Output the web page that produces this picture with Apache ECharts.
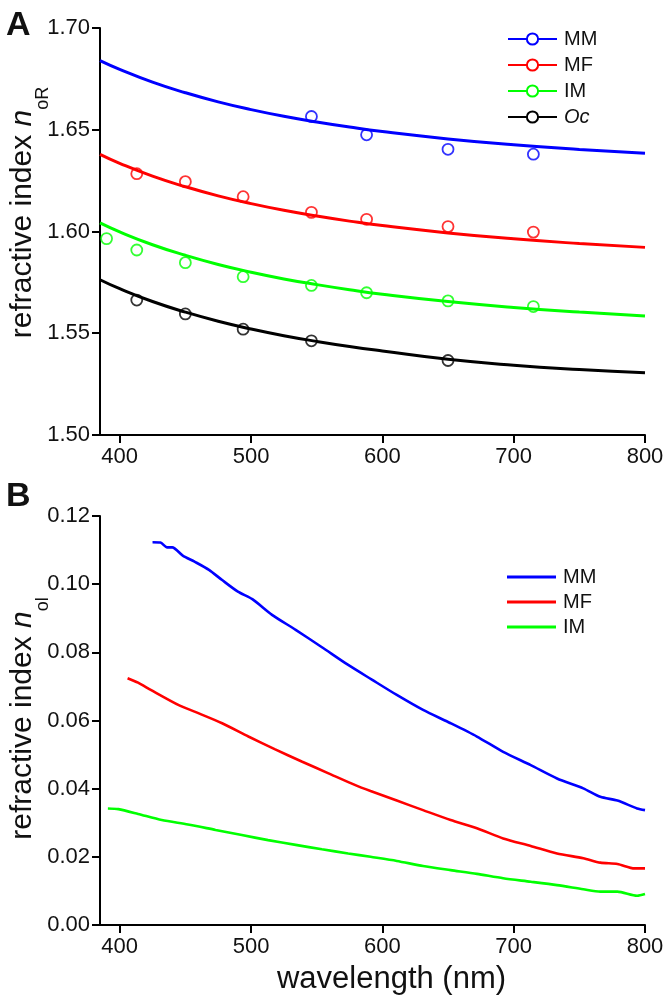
<!DOCTYPE html>
<html>
<head>
<meta charset="utf-8">
<script src="https://cdn.jsdelivr.net/npm/echarts@6/dist/echarts.min.js"></script>
<style>html,body{margin:0;padding:0;background:#fff}#c{width:672px;height:1002px}</style>
</head>
<body>
<div id="c"></div>
<script>
// ---------- Panel A: fitted curves ----------
const fitWl = [385, 400, 425, 450, 475, 500, 525, 550, 575, 600, 650, 700, 750, 800];
const fitMM = [1.6840, 1.6797, 1.6734, 1.6682, 1.6637, 1.6599, 1.6566, 1.6538, 1.6513, 1.6491, 1.6455, 1.6426, 1.6403, 1.6384];
const fitMF = [1.6379, 1.6335, 1.6272, 1.6220, 1.6175, 1.6137, 1.6104, 1.6076, 1.6051, 1.6029, 1.5993, 1.5964, 1.5941, 1.5922];
const fitIM = [1.6042, 1.5998, 1.5935, 1.5883, 1.5838, 1.5800, 1.5767, 1.5739, 1.5714, 1.5692, 1.5656, 1.5627, 1.5604, 1.5585];
const fitOc = [1.5763, 1.5719, 1.5656, 1.5604, 1.5559, 1.5521, 1.5488, 1.5460, 1.5435, 1.5413, 1.5372, 1.5343, 1.5322, 1.5306];

// ---------- Panel A: measured points ----------
const ptWlMM = [546, 588, 650, 715];
const ptMM = [1.6565, 1.6475, 1.6404, 1.6380];
const ptWlMF = [413, 450, 494, 546, 588, 650, 715];
const ptMF = [1.6284, 1.6245, 1.6171, 1.6094, 1.6060, 1.6024, 1.5997];
const ptWlIM = [390, 413, 450, 494, 546, 588, 650, 715];
const ptIM = [1.5965, 1.5909, 1.5847, 1.5778, 1.5735, 1.5699, 1.5659, 1.5631];
const ptWlOc = [413, 450, 494, 546, 650];
const ptOc = [1.5663, 1.5595, 1.5520, 1.5463, 1.5366];

// ---------- Panel B: spectra ----------
const bWlMM = [425, 431, 436, 440, 448, 457, 468, 478, 490, 501, 516, 534, 554, 574, 592, 611, 631, 652, 672, 692, 713, 733, 753, 766, 779, 794, 800];
const bMM = [0.1123, 0.1122, 0.1108, 0.1108, 0.1084, 0.1066, 0.1042, 0.1012, 0.0978, 0.0956, 0.0910, 0.0866, 0.0815, 0.0763, 0.0720, 0.0675, 0.0631, 0.0592, 0.0553, 0.0508, 0.0469, 0.0430, 0.0401, 0.0376, 0.0365, 0.0342, 0.0337];
const bWlMF = [406, 414, 424, 445, 457, 478, 498, 518, 539, 559, 579, 591, 611, 631, 652, 672, 692, 713, 733, 753, 766, 779, 792, 800];
const bMF = [0.0724, 0.0711, 0.0689, 0.0645, 0.0626, 0.0592, 0.0553, 0.0516, 0.0479, 0.0445, 0.0411, 0.0393, 0.0365, 0.0337, 0.0308, 0.0284, 0.0254, 0.0232, 0.0210, 0.0196, 0.0183, 0.0179, 0.0166, 0.0166];
const bWlIM = [391, 399, 414, 432, 452, 473, 493, 513, 534, 554, 574, 591, 611, 631, 652, 672, 692, 713, 733, 753, 766, 779, 794, 800];
const bIM = [0.0342, 0.0340, 0.0326, 0.0308, 0.0295, 0.0279, 0.0264, 0.0249, 0.0235, 0.0222, 0.0210, 0.0200, 0.0188, 0.0173, 0.0161, 0.0150, 0.0137, 0.0127, 0.0117, 0.0105, 0.0098, 0.0098, 0.0086, 0.0091];

const xTicks = [400, 500, 600, 700, 800];
const namesA = ['MM', 'MF', 'IM', 'Oc'];
const namesB = ['MM', 'MF', 'IM'];

const FONT = "'Liberation Sans', Arial, sans-serif";
const COL = {MM: '#0000ff', MF: '#ff0000', IM: '#00ff00', Oc: '#000000'};

const zip = (xs, ys) => xs.map((x, i) => [x, ys[i]]);

const fits = {MM: fitMM, MF: fitMF, IM: fitIM, Oc: fitOc};
const pts = {MM: [ptWlMM, ptMM], MF: [ptWlMF, ptMF], IM: [ptWlIM, ptIM], Oc: [ptWlOc, ptOc]};
const spec = {MM: [bWlMM, bMM], MF: [bWlMF, bMF], IM: [bWlIM, bIM]};

const axisLineStyle = {color: '#000', width: 2};
function xAxis(gi) {
  return {
    type: 'value', gridIndex: gi, min: 385, max: 800,
    axisLine: {show: true, onZero: false, lineStyle: axisLineStyle},
    axisTick: {show: true, length: 8, lineStyle: axisLineStyle, customValues: xTicks},
    axisLabel: {fontSize: 22, color: '#111', fontFamily: FONT, margin: 11, customValues: xTicks},
    splitLine: {show: false}
  };
}
function yAxis(gi, min, max, interval, nameRich, nameGap, pad) {
  return {
    type: 'value', gridIndex: gi, min: min, max: max, interval: interval,
    axisLine: {show: true, lineStyle: axisLineStyle},
    axisTick: {show: true, length: 8, lineStyle: axisLineStyle},
    axisLabel: {fontSize: 22, color: '#111', fontFamily: FONT, margin: 10, formatter: v => v.toFixed(2)},
    splitLine: {show: false},
    name: nameRich, nameLocation: 'middle', nameRotate: 90, nameGap: nameGap,
    nameMoveOverlap: false,
    nameTextStyle: {
      fontFamily: FONT, color: '#111', fontSize: 30, padding: pad,
      rich: {
        t: {fontSize: 30, fontFamily: FONT, color: '#111', lineHeight: 58},
        i: {fontSize: 30, fontFamily: FONT, color: '#111', fontStyle: 'italic', lineHeight: 58},
        s: {fontSize: 18, fontFamily: FONT, color: '#111', verticalAlign: 'bottom', lineHeight: 18}
      }
    }
  };
}

const series = [];
namesA.forEach(n => series.push({
  name: n, type: 'line', xAxisIndex: 0, yAxisIndex: 0, smooth: true,
  symbol: 'emptyCircle', showSymbol: false, symbolSize: 11,
  data: zip(fitWl, fits[n]),
  lineStyle: {color: COL[n], width: 3}, itemStyle: {color: COL[n]}, z: 2, silent: true
}));
namesA.forEach(n => series.push({
  name: n, type: 'scatter', xAxisIndex: 0, yAxisIndex: 0,
  symbol: 'circle', symbolSize: 11,
  data: zip(pts[n][0], pts[n][1]),
  itemStyle: {color: 'rgba(0,0,0,0)', borderColor: COL[n], borderWidth: 1.8}, z: 3, silent: true
}));
namesB.forEach(n => series.push({
  name: n, type: 'line', xAxisIndex: 1, yAxisIndex: 1,
  symbol: 'none', showSymbol: false, smooth: 0.25,
  data: zip(spec[n][0], spec[n][1]),
  lineStyle: {color: COL[n], width: 2.6}, itemStyle: {color: COL[n]}, silent: true
}));

const chart = echarts.init(document.getElementById('c'), null, {renderer: 'canvas'});
chart.setOption({
  animation: false,
  backgroundColor: '#fff',
  title: [
    {text: 'A', left: 6, top: 9, padding: 0, textStyle: {fontSize: 34, fontWeight: 'bold', fontFamily: FONT, color: '#111'}},
    {text: 'B', left: 6, top: 480, padding: 0, textStyle: {fontSize: 34, fontWeight: 'bold', fontFamily: FONT, color: '#111'}}
  ],
  grid: [
    {left: 100, right: 27, top: 28, height: 407, outerBoundsMode: 'none', containLabel: false},
    {left: 100, right: 27, top: 516, height: 409, outerBoundsMode: 'none', containLabel: false}
  ],
  xAxis: [
    xAxis(0),
    Object.assign(xAxis(1), {
      name: 'wavelength (nm)', nameLocation: 'middle', nameGap: 39, nameMoveOverlap: false,
      nameTextStyle: {fontSize: 31, fontFamily: FONT, color: '#111', padding: [0, 0, 0, 38]}
    })
  ],
  yAxis: [
    yAxis(0, 1.5, 1.7, 0.05, '{t|refractive index }{i|n}{s|oR}', 48, [0, 0, 0, 38]),
    yAxis(1, 0, 0.12, 0.02, '{t|refractive index }{i|n}{s|ol}', 48, [0, 0, 0, 4])
  ],
  legend: [
    {
      data: namesA, orient: 'vertical', left: 502, top: 24, itemWidth: 49, itemHeight: 14, itemGap: 6,
      selectedMode: false,
      formatter: n => n === 'Oc' ? '{i|Oc}' : n,
      textStyle: {fontSize: 20, color: '#111', fontFamily: FONT, padding: [0, 0, 0, 2],
        rich: {i: {fontSize: 20, fontStyle: 'italic', fontFamily: FONT, color: '#111'}}}
    },
    {
      data: namesB, orient: 'vertical', left: 502, top: 562, icon: 'rect', itemWidth: 49, itemHeight: 3, itemGap: 5,
      selectedMode: false,
      textStyle: {fontSize: 20, color: '#111', fontFamily: FONT, padding: [0, 0, 0, 2]}
    }
  ],
  series: series
});
</script>
</body>
</html>
